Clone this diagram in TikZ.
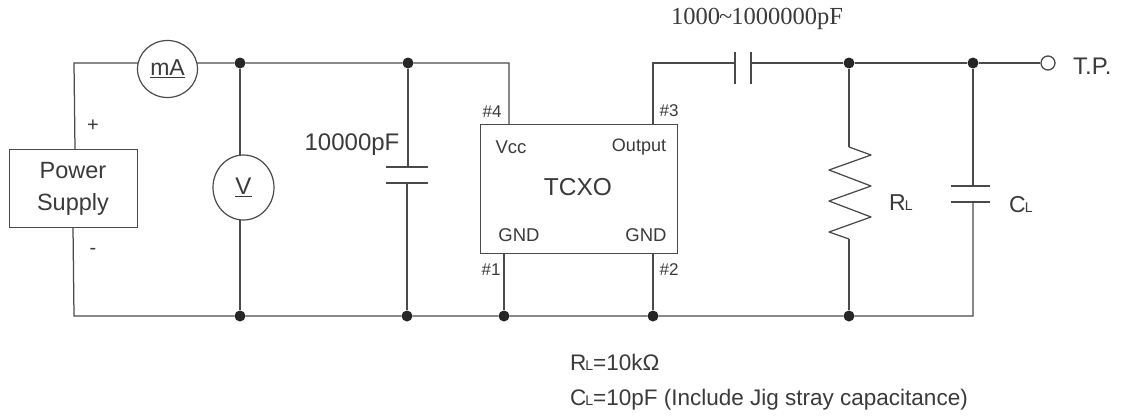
\documentclass[tikz,border=0pt]{standalone}
\usepackage{fontspec}
\setmainfont{Liberation Sans}
\newfontfamily\serifface{Liberation Serif}
\usetikzlibrary{shapes.geometric}
\definecolor{wirec}{HTML}{4A4A4A}
\definecolor{textc}{HTML}{3A3A3A}
\newcommand{\fs}[1]{\fontsize{#1}{#1}\selectfont}
\newcommand{\subL}{\kern-1pt{\fs{14}L}}
\tikzset{
  wire/.style={draw=wirec,line width=1.25pt},
  junction/.style={circle,fill=black!85,inner sep=0pt,minimum size=11pt},
  meter/.style={ellipse,draw=wirec,line width=1.2pt,fill=white,inner sep=0pt,text=textc},
  box/.style={rectangle,draw=wirec,line width=1.3pt,inner sep=0pt,text=textc,anchor=north west},
  lab/.style={text=textc,inner sep=0pt},
}
\begin{document}
\begin{tikzpicture}[x=1pt,y=-1pt]
\useasboundingbox (0,0) rectangle (1122,418);
\coordinate (tl) at (74,63);
\coordinate (bl) at (74,316);
\coordinate (vt) at (509,63);
\coordinate (ot) at (653,63);
\coordinate (br) at (973,316);
\coordinate (c1a) at (408,167);
\coordinate (c1b) at (407,183);
\coordinate (c2a) at (735,63);
\coordinate (c2b) at (751,63);
\coordinate (c3a) at (973,186);
\coordinate (c3b) at (973,202);
\coordinate (r1) at (849,147);
\coordinate (r2) at (849,239);
\node[junction] (j1) at (240,63) {};
\node[junction] (j2) at (408,63) {};
\node[junction] (j3) at (849,63) {};
\node[junction] (j4) at (973,63) {};
\node[junction] (j5) at (240,316) {};
\node[junction] (j6) at (407,316) {};
\node[junction] (j7) at (504,316) {};
\node[junction] (j8) at (653,316) {};
\node[junction] (j9) at (849,316) {};
\node[circle,draw=wirec,line width=1.3pt,fill=white,inner sep=0pt,minimum size=14pt] (tp) at (1048,63) {};
\draw[wire] (75,149) -- (tl) -- (j1) -- (j2) -- (vt) -- (509,124);
\draw[wire] (73,227) -- (bl) -- (j5) -- (j6) -- (j7) -- (j8) -- (j9) -- (br) -- (c3b);
\draw[wire] (j1) -- (j5);
\draw[wire] (j2) -- (c1a);
\draw[wire] (c1b) -- (j6);
\draw[wire] (504,253) -- (j7);
\draw[wire] (653,253) -- (j8);
\draw[wire] (653,124) -- (ot) -- (c2a);
\draw[wire] (c2b) -- (j3) -- (j4) -- (tp);
\draw[wire] (j3) -- (r1);
\draw[wire] (r2) -- (j9);
\draw[wire] (j4) -- (c3a);
\draw[wire,line join=round] (r1) -- (871,155) -- (829,170) -- (871,186) -- (829,201) -- (871,217) -- (829,232) -- (r2);
\draw[wire] (386,167) -- (428,167);
\draw[wire] (386,183) -- (428,183);
\draw[wire] (735,52) -- (735,84);
\draw[wire] (751,52) -- (751,84);
\draw[wire] (951,186) -- (990,186);
\draw[wire] (951,202) -- (990,202);
\node[meter,minimum width=60pt,minimum height=57pt] (ma) at (167.5,69) {\fs{23}\underline{mA}};
\node[meter,minimum width=61pt,minimum height=65pt] (vm) at (243.5,187.5) {\fs{24}\underline{V}};
\node[box,minimum width=128pt,minimum height=78pt,fill=white] (ps) at (9,149) {};
\node[lab,align=center,font=\fontsize{23.5}{32}\selectfont] (pst) at (73,188.5) {Power\\Supply};
\node[box,minimum width=197pt,minimum height=129pt,fill=white] (ic) at (480,124) {};
\node[lab] (tcxo) at (578,187) {\fs{24.5}TCXO};
\node[lab] (vcc) at (511,147) {\fs{18.5}Vcc};
\node[lab] (out) at (639,147) {\fs{18}Output};
\node[lab] (g1) at (519,235) {\fs{18.5}GND};
\node[lab] (g2) at (646,235) {\fs{18.5}GND};
\node[lab] (p4) at (492,112) {\fs{17}\#4};
\node[lab] (p3) at (669,111) {\fs{17}\#3};
\node[lab] (p1) at (491,270) {\fs{17}\#1};
\node[lab] (p2) at (669,270) {\fs{17}\#2};
\node[lab] (plus) at (93,126) {\fs{20}+};
\node[lab] (minus) at (93,251) {\fs{20}-};
\node[lab] (c1l) at (352,145) {\fs{24}10000pF};
\node[lab] (c2l) at (757,19) {\serifface\fs{24.5}1000\kern-1pt\textasciitilde\kern-1pt1000000pF};
\node[lab,anchor=west] (tpl) at (1073,66) {\fs{24}T.P.};
\node[lab,anchor=west] (rl) at (889,203) {\fs{23}R\subL};
\node[lab,anchor=west] (cl) at (1009,205) {\fs{23}C\subL};
\node[lab,anchor=west] (n1) at (570,362) {\fs{22.5}R\subL=10kΩ};
\node[lab,anchor=west] (n2) at (570,400) {\fs{22.5}C\subL=10pF (Include Jig stray capacitance)};
\end{tikzpicture}
\end{document}
